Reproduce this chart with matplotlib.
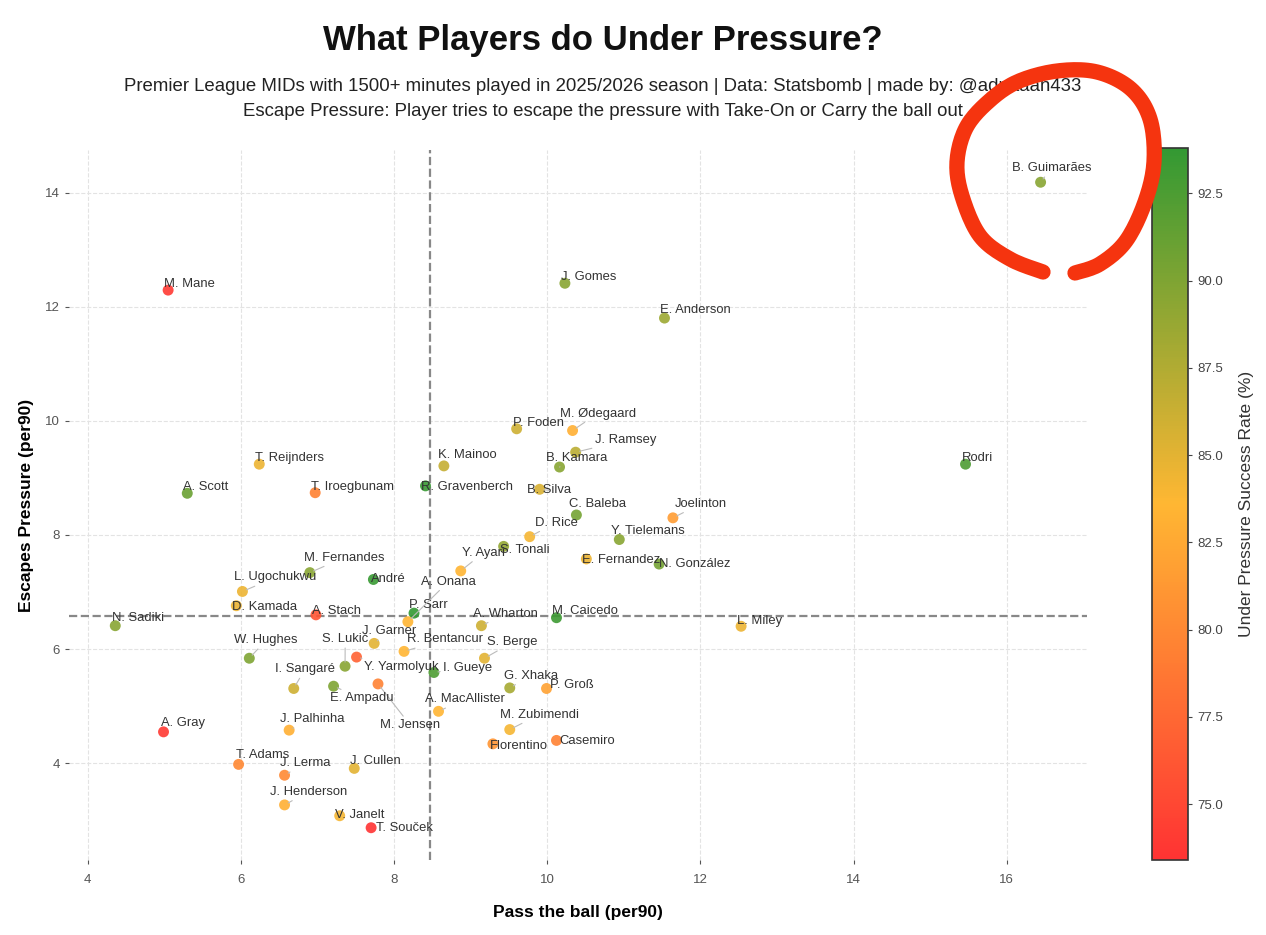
import numpy as np
import matplotlib
matplotlib.use("Agg")
import matplotlib.pyplot as plt
from matplotlib.colors import LinearSegmentedColormap, Normalize
from matplotlib.lines import Line2D

plt.rcParams['font.family'] = ['Liberation Sans', 'DejaVu Sans']

# players, passes per90, escapes per90, under pressure success rate
players = ['M. Mane', 'A. Scott', 'T. Reijnders', 'T. Iroegbunam', 'R. Gravenberch', 'K. Mainoo',
           'J. Gomes', 'E. Anderson', 'P. Foden', 'M. Ødegaard', 'J. Ramsey', 'B. Kamara',
           'B. Silva', 'C. Baleba', 'D. Rice', 'Joelinton', 'Y. Tielemans', 'S. Tonali',
           'E. Fernandez', 'N. González', 'Y. Ayari', 'B. Guimarães', 'Rodri', 'L. Miley',
           'M. Fernandes', 'L. Ugochukwu', 'André', 'D. Kamada', 'A. Stach', 'N. Sadiki',
           'P. Sarr', 'A. Onana', 'J. Garner', 'R. Bentancur', 'S. Lukić', 'Y. Yarmolyuk',
           'M. Jensen', 'E. Ampadu', 'W. Hughes', 'I. Sangaré', 'I. Gueye', 'A. MacAllister',
           'A. Gray', 'J. Palhinha', 'T. Adams', 'J. Lerma', 'J. Cullen', 'J. Henderson',
           'V. Janelt', 'T. Souček', 'A. Wharton', 'M. Caicedo', 'S. Berge', 'G. Xhaka',
           'P. Groß', 'M. Zubimendi', 'Florentino', 'Casemiro']
passes = [5.05, 5.30, 6.24, 6.97, 8.41, 8.65,
          10.23, 11.53, 9.60, 10.33, 10.37, 10.16,
          9.90, 10.38, 9.77, 11.64, 10.94, 9.43,
          10.51, 11.46, 8.87, 16.44, 15.46, 12.53,
          6.90, 6.02, 7.73, 5.94, 6.98, 4.36,
          8.26, 8.18, 7.74, 8.13, 7.36, 7.51,
          7.79, 7.21, 6.11, 6.69, 8.52, 8.58,
          4.99, 6.63, 5.97, 6.57, 7.48, 6.57,
          7.29, 7.70, 9.14, 10.12, 9.18, 9.51,
          9.99, 9.51, 9.29, 10.12]
escapes = [12.29, 8.73, 9.24, 8.74, 8.86, 9.21,
           12.41, 11.80, 9.86, 9.83, 9.45, 9.19,
           8.80, 8.35, 7.97, 8.30, 7.92, 7.80,
           7.58, 7.49, 7.37, 14.18, 9.24, 6.40,
           7.34, 7.01, 7.22, 6.76, 6.60, 6.41,
           6.63, 6.48, 6.10, 5.96, 5.70, 5.86,
           5.39, 5.35, 5.84, 5.31, 5.59, 4.91,
           4.55, 4.58, 3.98, 3.79, 3.91, 3.27,
           3.08, 2.87, 6.41, 6.55, 5.84, 5.32,
           5.31, 4.59, 4.34, 4.40]
success = [74.0, 91.0, 84.5, 79.5, 93.5, 86.5,
           89.5, 88.5, 86.0, 83.0, 87.0, 89.5,
           85.5, 90.5, 84.0, 81.5, 89.5, 89.0,
           84.5, 90.5, 83.5, 89.5, 92.5, 84.5,
           89.5, 84.5, 93.5, 84.5, 76.0, 89.5,
           93.8, 83.5, 85.0, 83.5, 89.5, 77.0,
           79.5, 90.0, 90.0, 86.0, 92.5, 83.5,
           74.0, 83.0, 80.0, 80.0, 85.0, 83.0,
           84.0, 73.4, 86.0, 93.3, 85.0, 88.0,
           82.0, 84.0, 81.0, 79.5]

# label nudges in pixels (dx right, dy up), default is a small shift
label_shift = {
    'M. Ødegaard': (-13, 14), 'J. Ramsey': (19, 9), 'B. Kamara': (-14, 6), 'B. Silva': (-13, -4),
    'C. Baleba': (-7, 8), 'D. Rice': (5, 11), 'Joelinton': (2, 11), 'Y. Tielemans': (-8, 6),
    'Y. Ayari': (1, 15), 'S. Tonali': (-4, -7), 'E. Fernandez': (-4, -4), 'N. González': (0, -3),
    'A. Onana': (13, 37), 'M. Fernandes': (-6, 12), 'L. Ugochukwu': (-8, 11), 'André': (-2, -3),
    'D. Kamada': (-4, -4), 'A. Stach': (-4, 1), 'N. Sadiki': (-3, 5), 'P. Sarr': (-5, 5),
    'A. Wharton': (-8, 9), 'M. Caicedo': (-4, 4), 'L. Miley': (-4, 2), 'J. Garner': (-12, 9),
    'R. Bentancur': (3, 9), 'S. Berge': (3, 13), 'W. Hughes': (-15, 15), 'S. Lukić': (-23, 24),
    'Y. Yarmolyuk': (7, -13), 'I. Gueye': (9, 2), 'I. Sangaré': (-19, 16), 'G. Xhaka': (-6, 9),
    'P. Groß': (3, 0), 'E. Ampadu': (-4, -15), 'A. MacAllister': (-14, 9), 'M. Jensen': (2, -44),
    'M. Zubimendi': (-10, 12), 'A. Gray': (-3, 6), 'J. Palhinha': (-9, 8), 'Florentino': (-3, -5),
    'Casemiro': (3, -4), 'T. Adams': (-3, 6), 'J. Lerma': (-5, 9), 'J. Cullen': (-4, 4),
    'J. Henderson': (-15, 10), 'V. Janelt': (-5, -2), 'T. Souček': (5, -3), 'R. Gravenberch': (-4, -4),
    'K. Mainoo': (-6, 8), 'B. Guimarães': (-29, 11), 'E. Anderson': (-4, 5),
}

DPI = 100
cmap = LinearSegmentedColormap.from_list('pressure', ['#ff3333', '#ffb733', '#339933'])
norm = Normalize(vmin=min(success), vmax=max(success))

fig = plt.figure(figsize=(12.66, 9.35), dpi=DPI)
ax = fig.add_axes([0.0545, 0.0802, 0.804, 0.7594])
cax = fig.add_axes([0.910, 0.0802, 0.0284, 0.7615])

sc = ax.scatter(passes, escapes, c=success, cmap=cmap, norm=norm, s=62,
                alpha=0.9, edgecolors='none', zorder=3)

ax.axvline(np.median(passes), color='#888888', ls='--', lw=1.6, zorder=2)
ax.axhline(np.median(escapes), color='#888888', ls='--', lw=1.6, zorder=2)

for name, x, y in zip(players, passes, escapes):
    dx, dy = label_shift.get(name, (-4, 3))
    far = abs(dx) > 8 or abs(dy) > 8
    ax.annotate(name, (x, y), xytext=(dx * 72 / DPI, dy * 72 / DPI),
                textcoords='offset points', ha='left', va='baseline',
                fontsize=9.4, color='#333333', zorder=4,
                arrowprops=dict(arrowstyle='-', color='#bbbbbb', lw=0.8,
                                shrinkA=0, shrinkB=3) if far else None)

ax.grid(True, ls='--', color='#e3e3e3', lw=0.8, zorder=0)
ax.set_axisbelow(True)
for s in ax.spines.values():
    s.set_visible(False)
ax.tick_params(colors='#555555', labelsize=9.5, length=3, width=0.8)
ax.tick_params(axis='x', pad=7)
ax.set_xlabel('Pass the ball (per90)', fontsize=12.5, fontweight='bold', labelpad=14)
ax.set_ylabel('Escapes Pressure (per90)', fontsize=12.5, fontweight='bold', labelpad=8)

cb = fig.colorbar(sc, cax=cax)
cb.solids.set_alpha(1)
cb.outline.set_edgecolor('#333333')
cb.outline.set_linewidth(1.2)
cb.ax.tick_params(colors='#444444', labelsize=9.5, length=3)
cb.set_label('Under Pressure Success Rate (%)', fontsize=12.5, color='#333333', labelpad=12)

fig.text(0.476, 0.957, 'What Players do Under Pressure?', ha='center', va='center',
         fontsize=25, fontweight='bold', color='#111111')
fig.text(0.476, 0.908, 'Premier League MIDs with 1500+ minutes played in 2025/2026 season | Data: Statsbomb | made by: @adnaaan433',
         ha='center', va='center', fontsize=13.4, color='#222222')
fig.text(0.476, 0.881, 'Escape Pressure: Player tries to escape the pressure with Take-On or Carry the ball out',
         ha='center', va='center', fontsize=13.4, color='#222222')


def smooth(points, n=12):
    # catmull-rom through the given points
    p = np.asarray(points, float)
    p = np.vstack([p[0], p, p[-1]])
    out = []
    for i in range(1, len(p) - 2):
        p0, p1, p2, p3 = p[i - 1], p[i], p[i + 1], p[i + 2]
        for t in np.linspace(0, 1, n, endpoint=False):
            out.append(0.5 * ((2 * p1) + (-p0 + p2) * t + (2 * p0 - 5 * p1 + 4 * p2 - p3) * t ** 2
                              + (-p0 + 3 * p1 - 3 * p2 + p3) * t ** 3))
    out.append(p[-2])
    return np.array(out)


# hand drawn red circle around the top player
circle_px = [(1043, 272), (1010, 259), (980, 236), (962, 196), (957, 162), (966, 128),
             (988, 102), (1017, 82), (1057, 71), (1097, 72), (1131, 89), (1150, 119),
             (1154, 162), (1145, 202), (1126, 241), (1100, 264), (1075, 273)]
W, H = 1266, 935
path = smooth(circle_px)
fig.add_artist(Line2D(path[:, 0] / W, 1 - path[:, 1] / H, transform=fig.transFigure,
                      color='#f5340f', lw=11, solid_capstyle='round',
                      solid_joinstyle='round', zorder=10))

fig.savefig('out.png', dpi=DPI)
